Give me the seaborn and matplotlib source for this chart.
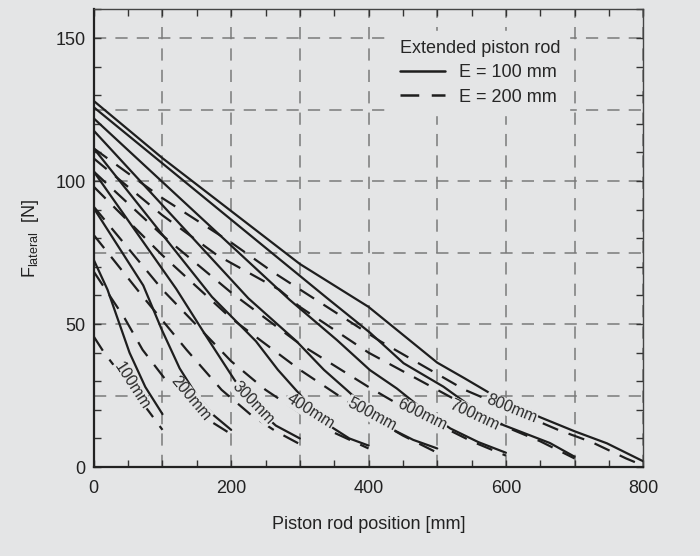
import pandas as pd
import seaborn as sns
import matplotlib.pyplot as plt
from matplotlib.ticker import MultipleLocator, FixedLocator

# stroke lengths [mm]
strokes = [100, 200, 300, 400, 500, 600, 700, 800]

# E = 100 mm (solid)
s100_x = [0, 20, 52, 75, 100]
s100_y = [72.4, 62, 40, 28, 18.5]
s200_x = [0, 72, 99, 125, 150, 175, 200]
s200_y = [90.5, 63.5, 48, 34.5, 25, 18, 13]
s300_x = [0, 120, 164, 205, 235, 265, 300]
s300_y = [103.3, 62.3, 45.6, 30.4, 21, 14.5, 10]
s400_x = [0, 172, 236, 268, 294, 320, 346, 372, 400]
s400_y = [111.4, 59.5, 44, 34, 27, 20, 14, 10, 7.5]
s500_x = [0, 225, 295, 335, 368, 400, 432, 465, 500]
s500_y = [117.6, 59, 44, 34, 27, 20, 13.5, 9.5, 6.5]
s600_x = [0, 285, 354, 402, 441, 480, 519, 560, 600]
s600_y = [121.9, 58.5, 44.4, 33.9, 27.5, 20, 13.5, 8.7, 5]
s700_x = [0, 340, 402, 451, 509, 550, 596, 664, 700]
s700_y = [125.8, 59, 47, 36.3, 28.1, 21, 14.7, 8.4, 3.6]
s800_x = [0, 100, 200, 300, 400, 500, 540, 574, 650, 700, 747, 800]
s800_y = [128, 108, 89.5, 71, 56, 36.5, 31, 26.2, 17.4, 12.5, 8.3, 2]

# E = 200 mm (dashed)
d100_x = [0, 15, 50, 80, 100]
d100_y = [45.6, 40, 29, 19.5, 13]
d200_x = [0, 45, 71, 103, 140, 170, 200]
d200_y = [68.3, 52, 41, 31, 22, 16, 11.5]
d300_x = [0, 70, 135, 186, 230, 265, 300]
d300_y = [81.1, 60, 41, 27, 18, 12.5, 8]
d400_x = [0, 100, 200, 250, 300, 350, 400]
d400_y = [91, 62, 37, 27, 19, 12, 6.5]
d500_x = [0, 100, 200, 300, 350, 400, 450, 500]
d500_y = [98, 74, 52, 34, 26, 18, 11, 5]
d600_x = [0, 100, 200, 300, 400, 450, 500, 550, 600]
d600_y = [103.3, 81, 61, 43, 28, 21, 15, 9, 4]
d700_x = [0, 100, 180, 270, 300, 400, 500, 600, 650, 700]
d700_y = [107.9, 88, 74, 62, 56, 40, 27, 14, 9, 3]
d800_x = [0, 100, 200, 260, 417, 540, 676, 725, 775, 800]
d800_y = [111.4, 94, 78.5, 68.3, 44, 27, 13, 8.7, 3, 0.5]

solid_x = [s100_x, s200_x, s300_x, s400_x, s500_x, s600_x, s700_x, s800_x]
solid_y = [s100_y, s200_y, s300_y, s400_y, s500_y, s600_y, s700_y, s800_y]
dash_x = [d100_x, d200_x, d300_x, d400_x, d500_x, d600_x, d700_x, d800_x]
dash_y = [d100_y, d200_y, d300_y, d400_y, d500_y, d600_y, d700_y, d800_y]

# curve labels and where they sit
label_text = ["100mm", "200mm", "300mm", "400mm", "500mm", "600mm", "700mm", "800mm"]
label_x = [55, 141, 232, 315, 405, 478, 554, 608]
label_y = [28.5, 24, 22.4, 19.6, 18.5, 18.2, 18.2, 20.3]
label_rot = [-57, -50, -46, -32, -28, -26, -25, -22]

rows = []
for s, xs, ys in zip(strokes, solid_x, solid_y):
    for a, b in zip(xs, ys):
        rows.append({"pos": a, "F": b, "curve": f"{s}-100", "Extended piston rod": "E = 100 mm"})
for s, xs, ys in zip(strokes, dash_x, dash_y):
    for a, b in zip(xs, ys):
        rows.append({"pos": a, "F": b, "curve": f"{s}-200", "Extended piston rod": "E = 200 mm"})
df = pd.DataFrame(rows)

bg = "#e4e5e6"
sns.set_theme(style="ticks")
plt.rcParams["font.family"] = ["Liberation Sans", "DejaVu Sans"]
plt.rcParams["mathtext.fontset"] = "custom"
plt.rcParams["mathtext.rm"] = "Liberation Sans"

fig = plt.figure(figsize=(7, 5.56), dpi=100, facecolor=bg)
ax = fig.add_axes([0.134, 0.160, 0.785, 0.823])
ax.set_facecolor(bg)

sns.lineplot(data=df, x="pos", y="F", units="curve", estimator=None, sort=False,
             style="Extended piston rod", dashes={"E = 100 mm": "", "E = 200 mm": (7.5, 5)},
             color="#1e1e1e", linewidth=1.6, ax=ax, zorder=3)

for t, lx, ly, r in zip(label_text, label_x, label_y, label_rot):
    ax.text(lx, ly, t, rotation=r, rotation_mode="anchor", ha="center", va="center",
            fontsize=11.5, color="#2a2a2a", zorder=5,
            bbox=dict(facecolor=bg, edgecolor="none", pad=0.6))

ax.set_xlim(0, 800)
ax.set_ylim(0, 160)
ax.xaxis.set_major_locator(FixedLocator([0, 100, 200, 300, 400, 500, 600, 700, 800]))
ax.set_xticklabels(["0", "", "200", "", "400", "", "600", "", "800"])
ax.xaxis.set_minor_locator(MultipleLocator(50))
ax.yaxis.set_major_locator(FixedLocator([0, 25, 50, 75, 100, 125, 150]))
ax.set_yticklabels(["0", "", "50", "", "100", "", "150"])
ax.yaxis.set_minor_locator(MultipleLocator(10))
ax.yaxis.remove_overlapping_locs = False

ax.tick_params(axis="both", which="both", direction="in", top=True, right=True,
               colors="#333333", labelcolor="#222222", labelsize=13)
ax.tick_params(axis="x", which="both", length=5, width=1, pad=9)
ax.tick_params(axis="y", which="major", length=0, pad=6)
ax.tick_params(axis="y", which="minor", length=5, width=1)

ax.grid(True, which="major", color="#7a7a7a", linestyle=(0, (8, 6)), linewidth=1.1)
for side in ["left", "bottom"]:
    ax.spines[side].set_linewidth(1.6)
    ax.spines[side].set_color("#222222")
for side in ["top", "right"]:
    ax.spines[side].set_linewidth(1.0)
    ax.spines[side].set_color("#444444")

ax.set_xlabel("Piston rod position [mm]", fontsize=13, color="#222222", labelpad=14)
ax.set_ylabel(r"F$_{\mathregular{lateral}}$  [N]", fontsize=13, color="#222222", labelpad=10)

handles, labels = ax.get_legend_handles_labels()
leg = ax.legend(handles, labels, title="Extended piston rod", loc="upper left",
                bbox_to_anchor=(0.54, 0.954), frameon=True, alignment="left",
                fontsize=13, title_fontsize=13, handlelength=2.5,
                handletextpad=0.8, labelspacing=0.42, borderaxespad=0, borderpad=0.5,
                fancybox=False, facecolor=bg, edgecolor=bg, framealpha=1)
for h in leg.get_lines():
    h.set_color("#1e1e1e")
    h.set_linewidth(1.8)

fig.savefig("out.png", dpi=100, facecolor=bg)
